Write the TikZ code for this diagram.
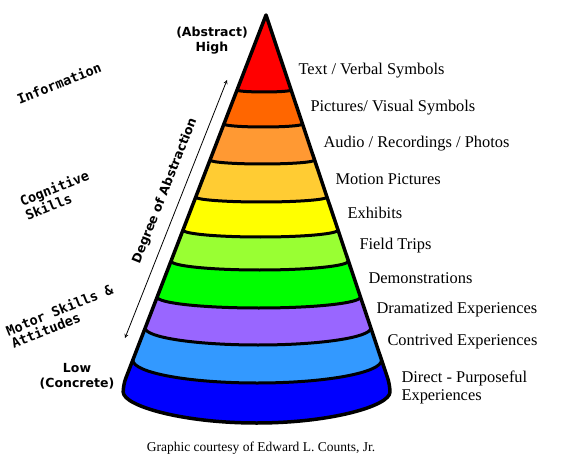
\documentclass[tikz,border=0pt]{standalone}
\usepackage{fontspec}
\setmainfont{Liberation Serif}
\setmonofont{DejaVu Sans Mono}
\newfontfamily\headsans{DejaVu Sans}

\definecolor{bandred}{HTML}{FF0000}
\definecolor{bandorange}{HTML}{FF6600}
\definecolor{bandlightorange}{HTML}{FF9933}
\definecolor{bandgold}{HTML}{FFCC33}
\definecolor{bandyellow}{HTML}{FFFF00}
\definecolor{bandlightgreen}{HTML}{99FF33}
\definecolor{bandgreen}{HTML}{00FF00}
\definecolor{bandpurple}{HTML}{9966FF}
\definecolor{bandlightblue}{HTML}{3399FF}
\definecolor{bandblue}{HTML}{0000FF}

\tikzset{
	bandline/.style={line width=3pt},
	coneline/.style={line width=3.5pt, line join=round},
	levellabel/.style={anchor=west, font=\fontsize{16.4}{18}\selectfont},
	skilllabel/.style={rotate=22, align=left, font=\ttfamily\bfseries\fontsize{13.5}{13.5}\selectfont},
	endlabel/.style={align=center, font=\headsans\bfseries\fontsize{12.5}{15}\selectfont}
}

\begin{document}
\begin{tikzpicture}[x=1pt, y=-1pt]
	\useasboundingbox (0,0) rectangle (572,462);
	
	% bands of the cone, the blue one fills the whole cone first
	\fill[bandblue] (266,15) [rounded corners=7pt] -- (389.95,385) arc[start angle=0, end angle=180, x radius=133.385, y radius=38] [sharp corners] -- cycle;
	\fill[bandred] (266,15) -- (291.125,90) arc[start angle=0, end angle=180, x radius=27.0375, y radius=2] -- cycle;
	\foreach \yt/\st/\yb/\sb/\col in {90/2/124/3/bandorange, 124/3/160/4/bandlightorange, 160/4/197/5/bandgold, 197/5/230/7/bandyellow, 230/7/261/9/bandlightgreen, 261/9/297/11/bandgreen, 297/11/328/17/bandpurple, 328/17/360/23/bandlightblue} {
		\pgfmathsetmacro{\xlt}{266-0.386*(\yt-15)}
		\pgfmathsetmacro{\at}{0.3605*(\yt-15)}
		\pgfmathsetmacro{\xrb}{266+0.335*(\yb-15)}
		\pgfmathsetmacro{\ab}{0.3605*(\yb-15)}
		\fill[\col] (\xlt,\yt) arc[start angle=180, end angle=0, x radius=\at, y radius=\st] -- (\xrb,\yb) arc[start angle=0, end angle=180, x radius=\ab, y radius=\sb] -- cycle;
	}
	\foreach \y/\s in {90/2, 124/3, 160/4, 197/5, 230/7, 261/9, 297/11, 328/17, 360/23} {
		\pgfmathsetmacro{\xl}{266-0.386*(\y-15)}
		\pgfmathsetmacro{\a}{0.3605*(\y-15)}
		\draw[bandline] (\xl,\y) arc[start angle=180, end angle=0, x radius=\a, y radius=\s];
	}
	\draw[coneline] (266,15) [rounded corners=7pt] -- (389.95,385) arc[start angle=0, end angle=180, x radius=133.385, y radius=38] [sharp corners] -- cycle;
	
	% levels
	\node[levellabel] (text) at (295,71) {Text / Verbal Symbols};
	\node[levellabel] (pictures) at (307,108) {Pictures/ Visual Symbols};
	\node[levellabel] (audio) at (320,144) {Audio / Recordings / Photos};
	\node[levellabel] (motion) at (332,179) {Motion Pictures};
	\node[levellabel] (exhibits) at (344,213) {Exhibits};
	\node[levellabel] (trips) at (356,246) {Field Trips};
	\node[levellabel] (demos) at (365,278) {Demonstrations};
	\node[levellabel] (dramatized) at (373,310) {Dramatized Experiences};
	\node[levellabel] (contrived) at (384,342) {Contrived Experiences};
	\node[levellabel, align=left] (direct) at (398,387) {Direct - Purposeful\\Experiences};
	
	% ends and skills
	\node[endlabel] (high) at (212,41) {(Abstract)\\High};
	\node[endlabel] (low) at (77,376) {Low\\(Concrete)};
	\node[skilllabel] (information) at (59,83) {Information};
	\node[skilllabel] (cognitive) at (57,195) {Cognitive\\Skills};
	\node[skilllabel] (motor) at (62,316) {Motor Skills \&\\Attitudes};
	
	\coordinate (lowend) at (125,338);
	\coordinate (highend) at (227,80);
	\draw[<->, >=stealth, line width=0.8pt] (lowend) -- (highend);
	\node[endlabel, rotate=68.4] (degree) at (165,191) {Degree of Abstraction};
	
	\node[font=\fontsize{13.5}{15}\selectfont] (credit) at (261,448) {Graphic courtesy of Edward L. Counts, Jr.};
\end{tikzpicture}
\end{document}
